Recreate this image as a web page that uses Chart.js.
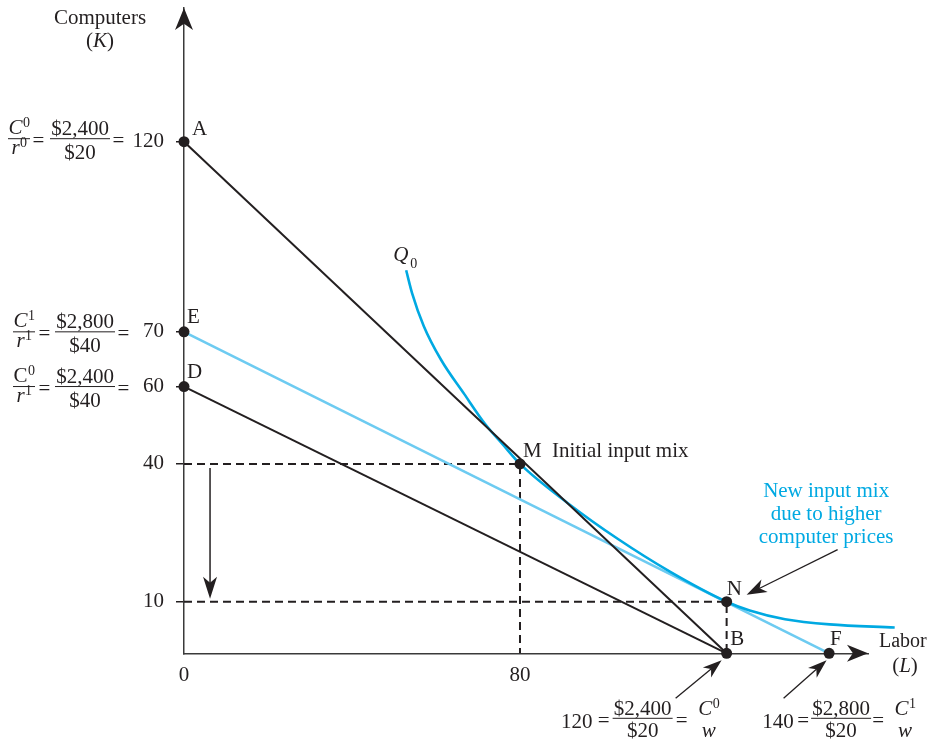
<!DOCTYPE html>
<html>
<head>
<meta charset="utf-8">
<script src="https://cdn.jsdelivr.net/npm/chart.js@4.4.1/dist/chart.umd.min.js"></script>
<style>
html,body{margin:0;padding:0;background:#fff;}
#wrap{width:927px;height:744px;position:relative;}
</style>
</head>
<body>
<div id="wrap"><canvas id="c"></canvas></div>
<script>
// ---------------- DATA ----------------
const pointNames = ['A', 'E', 'D', 'M', 'N', 'B', 'F'];
const pointLabor = [0, 0, 0, 80, 120, 120, 140];
const pointComputers = [120, 70, 60, 40, 10, 0, 0];

const isocostAB_L = [0, 120];
const isocostAB_K = [120, 0];
const isocostDB_L = [0, 120];
const isocostDB_K = [60, 0];
const isocostEF_L = [0, 140];
const isocostEF_K = [70, 0];

const isoquantL = [52.9, 54.3, 57.1, 61.2, 66.7, 71.7, 76.0, 80, 89.2, 98.9, 109.1, 120, 124.5, 131.4, 140.1, 152.8];
const isoquantK = [86.2, 80.2, 71.5, 64.9, 58.1, 50.3, 44.9, 40, 31.5, 23.7, 16.5, 10, 8.3, 6.6, 5.6, 5.0];

const guide40_L = [0, 80, 80];
const guide40_K = [40, 40, 0];
const guide10_L = [0, 120, 120];
const guide10_K = [10, 10, 0];

const xTicks = [0, 80];
const yTicks = [10, 40, 60, 70, 120];

// ---------------- STYLE ----------------
const ink = '#231f20';
const cyan = '#00a9e2';
const lightBlue = '#6dcbf1';
const SERIF = '"Liberation Serif", "Times New Roman", serif';
const FS = 21;

// The original drawing is not to scale: piecewise-linear axis warping (value -> axis units)
const xWarp = [[0, 0], [80, 80], [120, 129.2], [140, 153.6]];
const yWarp = [[0, 0], [10, 10], [40, 36.7], [60, 51.7], [70, 62.3], [120, 99.15]];
function warp(knots, v) {
  for (let i = 1; i < knots.length; i++) {
    if (v <= knots[i][0] || i === knots.length - 1) {
      const [v0, u0] = knots[i - 1], [v1, u1] = knots[i];
      return u0 + (v - v0) * (u1 - u0) / (v1 - v0);
    }
  }
}
function unwarp(knots, u) {
  for (let i = 1; i < knots.length; i++) {
    if (u <= knots[i][1] || i === knots.length - 1) {
      const [v0, u0] = knots[i - 1], [v1, u1] = knots[i];
      return v0 + (u - u0) * (v1 - v0) / (u1 - u0);
    }
  }
}
class WarpScale extends Chart.LinearScale {
  static id = 'warp';
  knots() { return this.axis === 'x' ? xWarp : yWarp; }
  getPixelForValue(v) {
    if (v === null || v === undefined || isNaN(v)) return NaN;
    return super.getPixelForValue(warp(this.knots(), v));
  }
  getValueForPixel(p) { return unwarp(this.knots(), super.getValueForPixel(p)); }
}
Chart.register(WarpScale);

const zip = (xs, ys) => xs.map((v, i) => ({ x: v, y: ys[i] }));

// ---------------- TEXT HELPERS ----------------
function fnt(st) {
  const it = st.includes('i') ? 'italic ' : '';
  const sz = st.includes('s') ? 14 : (st.includes('m') ? 20 : FS);
  return it + sz + 'px ' + SERIF;
}
function rich(ctx, parts, x, y, align) {
  let w = 0;
  const ws = parts.map(([t, st]) => { ctx.font = fnt(st); const m = ctx.measureText(t).width; w += m; return m; });
  let cx = align === 'center' ? x - w / 2 : align === 'right' ? x - w : x;
  ctx.textAlign = 'left';
  ctx.textBaseline = 'alphabetic';
  parts.forEach(([t, st], i) => {
    ctx.font = fnt(st);
    ctx.fillText(t, cx + (st.includes('s') ? 0.5 : 0), y - (st.includes('s') ? 7 : 0));
    cx += ws[i] + (st.includes('s') ? 0.5 : 0);
  });
}
function frac(ctx, num, den, cx, bar, bw, drawBar, numOff, denOff) {
  if (drawBar) {
    ctx.beginPath();
    ctx.moveTo(cx - bw / 2, bar);
    ctx.lineTo(cx + bw / 2, bar);
    ctx.lineWidth = 1;
    ctx.strokeStyle = ctx.fillStyle;
    ctx.stroke();
  }
  rich(ctx, num, cx, bar - (numOff || 4), 'center');
  rich(ctx, den, cx, bar + (denOff || 19), 'center');
}
function head(ctx, x0, y0, x1, y1, len, hw) {
  const ang = Math.atan2(y1 - y0, x1 - x0);
  const c = Math.cos(ang), s = Math.sin(ang);
  const bx = x1 - c * len, by = y1 - s * len;
  const nx = x1 - c * len * 0.72, ny = y1 - s * len * 0.72;
  ctx.beginPath();
  ctx.moveTo(x1, y1);
  ctx.lineTo(bx - s * hw, by + c * hw);
  ctx.lineTo(nx, ny);
  ctx.lineTo(bx + s * hw, by - c * hw);
  ctx.closePath();
  ctx.fill();
}
function arrow(ctx, x0, y0, x1, y1, len, hw, lw) {
  const ang = Math.atan2(y1 - y0, x1 - x0);
  ctx.beginPath();
  ctx.moveTo(x0, y0);
  ctx.lineTo(x1 - Math.cos(ang) * len * 0.7, y1 - Math.sin(ang) * len * 0.7);
  ctx.lineWidth = lw;
  ctx.stroke();
  head(ctx, x0, y0, x1, y1, len, hw);
}

const annotations = {
  id: 'annotations',
  afterDraw(chart) {
    const { ctx, chartArea: a, scales } = chart;
    const X = v => scales.x.getPixelForValue(v);
    const Y = v => scales.y.getPixelForValue(v);
    ctx.save();
    ctx.fillStyle = ink;
    ctx.strokeStyle = ink;

    // axis arrowheads
    head(ctx, a.left, a.top + 40, a.left, a.top, 22, 9);
    head(ctx, a.right - 40, a.bottom, a.right, a.bottom, 21, 8.5);

    // axis titles
    rich(ctx, [['Computers', '']], X(0) - 84, a.top + 16, 'center');
    rich(ctx, [['(', ''], ['K', 'i'], [')', '']], X(0) - 84, a.top + 39, 'center');
    rich(ctx, [['Labor', 'm']], a.right + 11, Y(0) - 6, 'left');
    rich(ctx, [['(', ''], ['L', 'i'], [')', '']], a.right + 37, Y(0) + 19, 'center');

    // point letters
    const off = { A: [8, -7], E: [3, -9], D: [3, -9], M: [3, -7], N: [0, -7], B: [3.5, -8.5], F: [1, -8.5] };
    pointNames.forEach((n, i) => {
      const px = X(pointLabor[i]), py = Y(pointComputers[i]);
      rich(ctx, [[n, '']], px + off[n][0], py + off[n][1], 'left');
    });
    rich(ctx, [['Initial input mix', '']], X(80) + 32, Y(40) - 7, 'left');

    // Q0 label
    const qx = X(isoquantL[0]), qy = Y(isoquantK[0]);
    rich(ctx, [['Q', 'i']], qx - 13, qy - 9, 'left');
    ctx.font = '14px ' + SERIF;
    ctx.textAlign = 'left';
    ctx.fillText('0', qx + 4, qy - 2);

    // y-axis fraction annotations
    const rowDefs = [
      { v: 120, bar: -3, c1: 19, num1: [['C', 'i'], ['0', 's']], den1: [['r', 'i'], ['0', 's']], e1: 38.5, c2: 80, num2: '$2,400', den2: '$20', e2: 118.5 },
      { v: 70, bar: 0, c1: 24, num1: [['C', 'i'], ['1', 's']], den1: [['r', 'i'], ['1', 's']], e1: 44.5, c2: 85, num2: '$2,800', den2: '$40', e2: 123.5 },
      { v: 60, bar: 0, c1: 24, num1: [['C', ''], ['0', 's']], den1: [['r', 'i'], ['1', 's']], e1: 44.5, c2: 85, num2: '$2,400', den2: '$40', e2: 123.5 }
    ];
    rowDefs.forEach(r => {
      const bar = Y(r.v) + r.bar;
      frac(ctx, r.num1, r.den1, r.c1, bar, 22, true, 4.5, 15);
      rich(ctx, [['=', '']], r.e1, bar + 8.5, 'center');
      frac(ctx, [[r.num2, '']], [[r.den2, '']], r.c2, bar, 60, true, 4, 20);
      rich(ctx, [['=', '']], r.e2, bar + 8.5, 'center');
    });

    // bottom annotations for B and F
    const bbar = Y(0) + 65;
    const bx = X(120), fx = X(140);
    rich(ctx, [['120', '']], bx - 150, bbar + 9.5, 'center');
    rich(ctx, [['=', '']], bx - 123, bbar + 8.5, 'center');
    frac(ctx, [['$2,400', '']], [['$20', '']], bx - 84, bbar, 60, true, 3, 19);
    rich(ctx, [['=', '']], bx - 45, bbar + 8.5, 'center');
    frac(ctx, [['C', 'i'], ['0', 's']], [['w', 'i']], bx - 18, bbar, 0, false, 3, 19);

    rich(ctx, [['140', '']], fx - 51, bbar + 9.5, 'center');
    rich(ctx, [['=', '']], fx - 26, bbar + 8.5, 'center');
    frac(ctx, [['$2,800', '']], [['$20', '']], fx + 12, bbar, 60, true, 3, 19);
    rich(ctx, [['=', '']], fx + 49, bbar + 8.5, 'center');
    frac(ctx, [['C', 'i'], ['1', 's']], [['w', 'i']], fx + 76, bbar, 0, false, 3, 19);

    // pointer arrows
    const tipB = [bx - 5, Y(0) + 7];
    arrow(ctx, tipB[0] - 46, tipB[1] + 38, tipB[0], tipB[1], 19, 6.5, 1.3);
    const tipF = [fx - 2.5, Y(0) + 7];
    arrow(ctx, tipF[0] - 43, tipF[1] + 38, tipF[0], tipF[1], 19, 6.5, 1.3);
    const nx = X(120), ny = Y(10);
    const tipN = [nx + 20, ny - 7];
    arrow(ctx, tipN[0] + 91, tipN[1] - 45, tipN[0], tipN[1], 20, 7, 1.3);

    // downward shift arrow
    arrow(ctx, X(6.2), Y(40) + 4, X(6.2), Y(10) - 3, 22, 7, 1.5);

    // new input mix note
    ctx.fillStyle = cyan;
    rich(ctx, [['New input mix', '']], nx + 99.5, ny - 105, 'center');
    rich(ctx, [['due to higher', '']], nx + 99.5, ny - 82, 'center');
    rich(ctx, [['computer prices', '']], nx + 99.5, ny - 59, 'center');

    ctx.restore();
  }
};

const lineDs = (data, color, width, extra) => Object.assign({
  data, showLine: true, borderColor: color, borderWidth: width, pointRadius: 0,
  fill: false, clip: false, tension: 0
}, extra || {});

new Chart(document.getElementById('c'), {
  type: 'scatter',
  data: {
    datasets: [
      { data: zip(pointLabor, pointComputers), showLine: false, pointRadius: 5.5,
        pointBackgroundColor: ink, pointBorderColor: ink, pointBorderWidth: 0, clip: false },
      lineDs(zip(isocostAB_L, isocostAB_K), ink, 2),
      lineDs(zip(isocostDB_L, isocostDB_K), ink, 2),
      lineDs(zip(isoquantL, isoquantK), cyan, 2.6, { cubicInterpolationMode: 'monotone' }),
      lineDs(zip(isocostEF_L, isocostEF_K), lightBlue, 2.6),
      lineDs(zip(guide40_L, guide40_K), ink, 2, { borderDash: [8, 5] }),
      lineDs(zip(guide10_L, guide10_K), ink, 2, { borderDash: [8, 5] })
    ]
  },
  options: {
    responsive: true,
    maintainAspectRatio: false,
    devicePixelRatio: 1,
    animation: false,
    events: [],
    layout: { padding: { left: 0, top: 8, right: 59, bottom: 0 } },
    plugins: { legend: { display: false }, tooltip: { enabled: false } },
    scales: {
      x: {
        type: 'warp', position: 'bottom', min: 0, max: 162.86,
        afterBuildTicks: s => { s.ticks = xTicks.map(v => ({ value: v })); },
        afterFit: s => { s.height = 90.7; s.paddingLeft = 0; s.paddingRight = 0; },
        grid: { display: false, drawTicks: false },
        border: { display: true, color: '#3a3a3a', width: 1.5 },
        ticks: { padding: 10, color: ink, font: { family: SERIF, size: FS }, callback: v => String(v), maxRotation: 0, autoSkip: false }
      },
      y: {
        type: 'warp', position: 'left', min: 0, max: 125.06,
        afterBuildTicks: s => { s.ticks = yTicks.map(v => ({ value: v })); },
        afterFit: s => { s.width = 184; s.paddingTop = 0; s.paddingBottom = 0; },
        grid: { display: true, drawOnChartArea: false, drawTicks: true, tickLength: 8, color: ink, lineWidth: 1.5 },
        border: { display: true, color: '#3a3a3a', width: 1.5 },
        ticks: { padding: 12, color: ink, font: { family: SERIF, size: FS }, callback: v => String(v), autoSkip: false }
      }
    }
  },
  plugins: [annotations]
});
</script>
</body>
</html>
